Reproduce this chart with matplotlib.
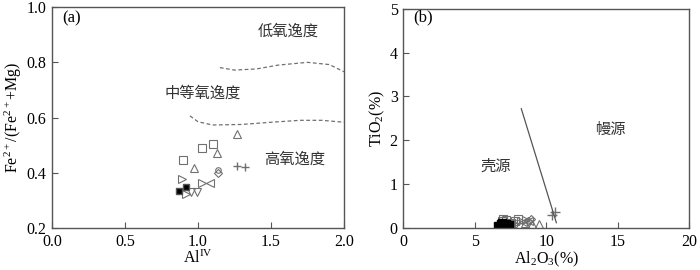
import matplotlib
matplotlib.use("Agg")
import matplotlib.pyplot as plt

plt.rcParams['font.family'] = ['Liberation Serif', 'Noto Sans CJK SC']
plt.rcParams['mathtext.fontset'] = 'custom'
plt.rcParams['mathtext.rm'] = 'Liberation Serif'
plt.rcParams['mathtext.it'] = 'Liberation Serif'
plt.rcParams['font.size'] = 11.5

# ---- panel (a): AlIV vs Fe2+/(Fe2+ + Mg)
sq_x = [0.90, 1.03, 1.10]
sq_y = [0.445, 0.489, 0.506]
tri_x = [0.975, 1.13, 1.27]
tri_y = [0.417, 0.470, 0.542]
plus_x = [1.27, 1.32]
plus_y = [0.423, 0.422]
dia_x = [1.14]
dia_y = [0.400]
circ_x = [1.14]
circ_y = [0.410]
rtri_x = [0.89, 1.03, 0.92]
rtri_y = [0.378, 0.363, 0.322]
ltri_x = [1.08]
ltri_y = [0.363]
dtri_x = [0.99, 0.95]
dtri_y = [0.332, 0.330]
blk_x = [0.87, 0.915]
blk_y = [0.334, 0.348]

# oxygen fugacity boundaries
up_x = [1.15, 1.25, 1.40, 1.55, 1.75, 1.90, 2.00]
up_y = [0.781, 0.772, 0.776, 0.790, 0.800, 0.792, 0.766]
lo_x = [0.945, 1.00, 1.10, 1.30, 1.50, 1.70, 1.85, 2.00]
lo_y = [0.606, 0.585, 0.573, 0.575, 0.583, 0.590, 0.590, 0.583]

# ---- panel (b): Al2O3 vs TiO2
b_blk_x = [6.6, 6.8, 7.0, 7.2, 6.9, 7.4]
b_blk_y = [0.05, 0.08, 0.04, 0.10, 0.12, 0.06]
b_sq_x = [6.9, 7.2, 7.5, 7.8, 8.0, 7.0]
b_sq_y = [0.15, 0.18, 0.12, 0.16, 0.20, 0.20]
b_tri_x = [8.5, 9.0, 9.5]
b_tri_y = [0.12, 0.10, 0.08]
b_dtri_x = [7.3, 7.6, 7.9]
b_dtri_y = [0.02, 0.05, 0.10]
b_rtri_x = [8.2, 8.6]
b_rtri_y = [0.16, 0.18]
b_ltri_x = [8.4, 8.8]
b_ltri_y = [0.14, 0.16]
b_dia_x = [8.9, 8.7]
b_dia_y = [0.20, 0.15]
b_plus_x = [10.4, 10.6]
b_plus_y = [0.30, 0.37]
line_x = [8.25, 10.7]
line_y = [2.72, 0.12]

fig = plt.figure(figsize=(7, 2.7), dpi=100)
ax1 = fig.add_axes([0.0743, 0.1556, 0.417, 0.818])
ax2 = fig.add_axes([0.576, 0.1556, 0.409, 0.812])

gray = '#707070'
ms = 5.5
kw = dict(linestyle='none', markerfacecolor='none', markersize=ms, markeredgewidth=0.8)

ax1.plot(sq_x, sq_y, marker='s', markeredgecolor=gray, **kw)
ax1.plot(tri_x, tri_y, marker='^', markeredgecolor=gray, **kw)
ax1.plot(plus_x, plus_y, marker='+', color=gray, linestyle='none', markersize=ms)
ax1.plot(dia_x, dia_y, marker='D', markeredgecolor=gray, linestyle='none', markerfacecolor='none', markersize=4.5, markeredgewidth=0.8)
ax1.plot(circ_x, circ_y, marker='o', markeredgecolor=gray, linestyle='none', markerfacecolor='none', markersize=4, markeredgewidth=0.8)
ax1.plot(rtri_x, rtri_y, marker='>', markeredgecolor=gray, **kw)
ax1.plot(ltri_x, ltri_y, marker='<', markeredgecolor=gray, **kw)
ax1.plot(dtri_x, dtri_y, marker='v', markeredgecolor=gray, **kw)
ax1.plot(blk_x, blk_y, marker='s', color='black', linestyle='none', markersize=5, markeredgecolor='#555555')

ax1.plot(up_x, up_y, linestyle='--', color=gray, linewidth=0.9, dashes=(3, 2))
ax1.plot(lo_x, lo_y, linestyle='--', color=gray, linewidth=0.9, dashes=(3, 2))

cjk = ['Noto Sans CJK SC', 'DejaVu Sans']
ax1.text(1.62, 0.914, '低氧逸度', family=cjk, fontsize=11, ha='center', va='center', color='#333333')
ax1.text(1.03, 0.687, '中等氧逸度', family=cjk, fontsize=11, ha='center', va='center', color='#333333')
ax1.text(1.665, 0.449, '高氧逸度', family=cjk, fontsize=11, ha='center', va='center', color='#333333')
ax1.text(0.07, 0.96, '(a)', ha='left', va='center', fontsize=12)

ax1.set_xlim(0, 2.0)
ax1.set_ylim(0.2, 1.0)
ax1.set_xticks([0.0, 0.5, 1.0, 1.5, 2.0])
ax1.set_xticklabels(['0.0', '0.5', '1.0', '1.5', '2.0'])
ax1.set_yticks([0.2, 0.4, 0.6, 0.8, 1.0])
ax1.set_yticklabels(['0.2', '0.4', '0.6', '0.8', '1.0'])
ax1.set_xlabel(r'Al$^{\mathrm{IV}}$', labelpad=0)
ax1.set_ylabel(r'Fe$^{2+}$/(Fe$^{2+}$+Mg)', labelpad=2)

ax2.plot(b_sq_x, b_sq_y, marker='s', markeredgecolor=gray, **kw)
ax2.plot(b_tri_x, b_tri_y, marker='^', markeredgecolor=gray, **kw)
ax2.plot(b_dtri_x, b_dtri_y, marker='v', markeredgecolor=gray, **kw)
ax2.plot(b_rtri_x, b_rtri_y, marker='>', markeredgecolor=gray, **kw)
ax2.plot(b_ltri_x, b_ltri_y, marker='<', markeredgecolor=gray, **kw)
ax2.plot(b_dia_x, b_dia_y, marker='D', markeredgecolor=gray, linestyle='none', markerfacecolor='none', markersize=4.5, markeredgewidth=0.8)
ax2.plot(b_blk_x, b_blk_y, marker='s', color='black', linestyle='none', markersize=ms)
ax2.plot(b_plus_x, b_plus_y, marker='+', color=gray, linestyle='none', markersize=7)
ax2.plot(line_x, line_y, color='#555555', linewidth=0.9)

ax2.text(6.44, 1.4, '壳源', family=cjk, fontsize=11, ha='center', va='center', color='#333333')
ax2.text(14.45, 2.25, '幔源', family=cjk, fontsize=11, ha='center', va='center', color='#333333')
ax2.text(0.7, 4.8, '(b)', ha='left', va='center', fontsize=12)

ax2.set_xlim(0, 20)
ax2.set_ylim(0, 5)
ax2.set_xticks([0, 5, 10, 15, 20])
ax2.set_yticks([0, 1, 2, 3, 4, 5])
ax2.set_xlabel(r'Al$_2$O$_3$(%)', labelpad=0)
ax2.set_ylabel(r'TiO$_2$(%)', labelpad=2)

for ax in (ax1, ax2):
    ax.tick_params(direction='in', length=4, width=0.8, color='#555555', labelsize=11.5, pad=4)
    for sp in ax.spines.values():
        sp.set_color('#555555')
        sp.set_linewidth(1.0)

fig.savefig('out.png', dpi=100)
